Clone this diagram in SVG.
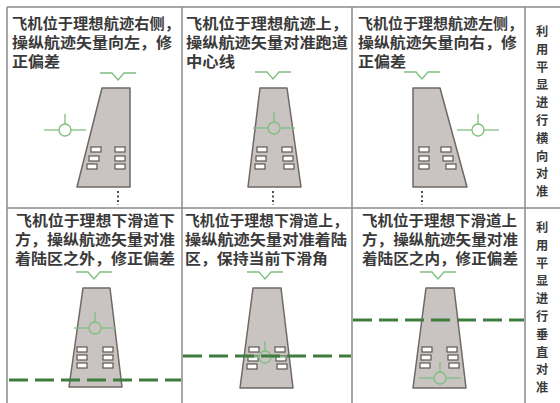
<svg xmlns="http://www.w3.org/2000/svg" width="560" height="403" viewBox="0 0 560 403">
  <defs>
    <style>
      .grid { stroke: #8a8a8a; stroke-width: 1.5; fill: none; }
      .txt { font-family: "Noto Sans CJK SC", "Noto Sans", sans-serif; font-size: 14.5px; font-weight: 700; fill: #3a3a3a; }
      .vtxt { font-family: "Noto Sans CJK SC", "Noto Sans", sans-serif; font-size: 12.2px; font-weight: 700; fill: #3a3a3a; text-anchor: middle; }
      .rwy { fill: #c9c4c1; stroke: #6f6864; stroke-width: 1.5; stroke-linejoin: round; }
      .lamp { fill: #ffffff; stroke: #5e5855; stroke-width: 1.2; }
      .sym { fill: none; stroke: #7fbe7f; stroke-width: 1.3; }
      .gs { fill: none; stroke: #3f7d3f; stroke-width: 3; stroke-dasharray: 19 7; }
      .dots { fill: none; stroke: #4a4a4a; stroke-width: 2; stroke-dasharray: 2 2.5; }
    </style>
    <!-- flight path vector: circle, wings, tail -->
    <g id="fpv">
      <circle class="sym" cx="0" cy="0" r="6"/>
      <line class="sym" x1="-21" y1="0" x2="-6" y2="0"/>
      <line class="sym" x1="6" y1="0" x2="21" y2="0"/>
      <line class="sym" x1="0" y1="-6" x2="0" y2="-16"/>
    </g>
    <!-- heading / horizon reference notch -->
    <polyline id="notch" class="sym" points="-18,0 -6,0 0,7 6,0 18,0"/>
    <rect id="lamp" class="lamp" width="10" height="5"/>
  </defs>

  <!-- table grid -->
  <g id="grid">
    <line class="grid" x1="7" y1="7" x2="560" y2="7"/>
    <line class="grid" x1="7" y1="208" x2="560" y2="208"/>
    <line class="grid" x1="7" y1="7" x2="7" y2="403"/>
    <line class="grid" x1="182" y1="7" x2="182" y2="403"/>
    <line class="grid" x1="352" y1="7" x2="352" y2="403"/>
    <line class="grid" x1="525" y1="7" x2="525" y2="403"/>
  </g>

  <!-- row 1, cell 1: right of track -->
  <g id="cell-r1c1">
    <text class="txt" x="12" y="28.5" textLength="168" lengthAdjust="spacingAndGlyphs">飞机位于理想航迹右侧，</text>
    <text class="txt" x="12" y="47.5" textLength="160" lengthAdjust="spacingAndGlyphs">操纵航迹矢量向左，修</text>
    <text class="txt" x="12" y="66.5" textLength="48" lengthAdjust="spacingAndGlyphs">正偏差</text>
    <use href="#notch" x="118" y="73"/>
    <polygon class="rwy" points="102,88 130,88 130,187 77,187"/>
    <use href="#lamp" x="91" y="147"/>
    <use href="#lamp" x="89" y="156"/>
    <use href="#lamp" x="87" y="164"/>
    <use href="#lamp" x="115" y="147"/>
    <use href="#lamp" x="115" y="156"/>
    <use href="#lamp" x="115" y="164"/>
    <line class="dots" x1="118" y1="191" x2="118" y2="205"/>
    <use href="#fpv" x="65" y="130"/>
  </g>

  <!-- row 1, cell 2: on track -->
  <g id="cell-r1c2">
    <text class="txt" x="186" y="28.5" textLength="162" lengthAdjust="spacingAndGlyphs">飞机位于理想航迹上，</text>
    <text class="txt" x="186" y="47.5" textLength="162" lengthAdjust="spacingAndGlyphs">操纵航迹矢量对准跑道</text>
    <text class="txt" x="186" y="66.5" textLength="49" lengthAdjust="spacingAndGlyphs">中心线</text>
    <use href="#notch" x="273" y="72"/>
    <polygon class="rwy" points="260,88 287,88 301,187 248,187"/>
    <use href="#lamp" x="257" y="147"/>
    <use href="#lamp" x="256" y="156"/>
    <use href="#lamp" x="255" y="164"/>
    <use href="#lamp" x="282" y="147"/>
    <use href="#lamp" x="283" y="156"/>
    <use href="#lamp" x="284" y="164"/>
    <line class="dots" x1="273" y1="191" x2="273" y2="205"/>
    <use href="#fpv" x="274" y="128"/>
  </g>

  <!-- row 1, cell 3: left of track -->
  <g id="cell-r1c3">
    <text class="txt" x="358" y="28.5" textLength="165" lengthAdjust="spacingAndGlyphs">飞机位于理想航迹左侧，</text>
    <text class="txt" x="358" y="47.5" textLength="159" lengthAdjust="spacingAndGlyphs">操纵航迹矢量向右，修</text>
    <text class="txt" x="358" y="66.5" textLength="48" lengthAdjust="spacingAndGlyphs">正偏差</text>
    <use href="#notch" x="422" y="72"/>
    <polygon class="rwy" points="413,88 440,88 467,187 413,187"/>
    <use href="#lamp" x="419" y="147"/>
    <use href="#lamp" x="419" y="156"/>
    <use href="#lamp" x="419" y="164"/>
    <use href="#lamp" x="441" y="147"/>
    <use href="#lamp" x="443" y="156"/>
    <use href="#lamp" x="446" y="164"/>
    <line class="dots" x1="422" y1="191" x2="422" y2="205"/>
    <use href="#fpv" x="478" y="130"/>
  </g>

  <!-- row 1 side label, one character per line -->
  <g id="label-lateral">
    <text class="vtxt" x="542" y="36">利</text>
    <text class="vtxt" x="542" y="54">用</text>
    <text class="vtxt" x="542" y="72">平</text>
    <text class="vtxt" x="542" y="89">显</text>
    <text class="vtxt" x="542" y="107">进</text>
    <text class="vtxt" x="542" y="125">行</text>
    <text class="vtxt" x="542" y="143">横</text>
    <text class="vtxt" x="542" y="161">向</text>
    <text class="vtxt" x="542" y="178">对</text>
    <text class="vtxt" x="542" y="196">准</text>
  </g>

  <!-- row 2, cell 1: below glide path -->
  <g id="cell-r2c1">
    <text class="txt" x="16" y="226" textLength="159" lengthAdjust="spacingAndGlyphs">飞机位于理想下滑道下</text>
    <text class="txt" x="15" y="245" textLength="160" lengthAdjust="spacingAndGlyphs">方，操纵航迹矢量对准</text>
    <text class="txt" x="15" y="264" textLength="160" lengthAdjust="spacingAndGlyphs">着陆区之外，修正偏差</text>
    <use href="#notch" x="94" y="272"/>
    <polygon class="rwy" points="83,288 110,288 122,387 69,387"/>
    <use href="#lamp" x="77" y="347"/>
    <use href="#lamp" x="77" y="355"/>
    <use href="#lamp" x="77" y="363"/>
    <use href="#lamp" x="103" y="347"/>
    <use href="#lamp" x="103" y="355"/>
    <use href="#lamp" x="103" y="363"/>
    <use href="#fpv" x="95" y="328"/>
  </g>

  <!-- row 2, cell 2: on glide path -->
  <g id="cell-r2c2">
    <text class="txt" x="185" y="226" textLength="163" lengthAdjust="spacingAndGlyphs">飞机位于理想下滑道上，</text>
    <text class="txt" x="185" y="245" textLength="162" lengthAdjust="spacingAndGlyphs">操纵航迹矢量对准着陆</text>
    <text class="txt" x="185" y="264" textLength="143" lengthAdjust="spacingAndGlyphs">区，保持当前下滑角</text>
    <use href="#notch" x="265" y="272"/>
    <polygon class="rwy" points="253,288 281,288 293,388 240,388"/>
    <use href="#lamp" x="249" y="347"/>
    <use href="#lamp" x="248" y="356"/>
    <use href="#lamp" x="247" y="364"/>
    <use href="#lamp" x="275" y="347"/>
    <use href="#lamp" x="276" y="356"/>
    <use href="#lamp" x="277" y="364"/>
    <use href="#fpv" x="265" y="357"/>
  </g>

  <!-- row 2, cell 3: above glide path -->
  <g id="cell-r2c3">
    <text class="txt" x="362" y="226" textLength="155" lengthAdjust="spacingAndGlyphs">飞机位于理想下滑道上</text>
    <text class="txt" x="362" y="245" textLength="156" lengthAdjust="spacingAndGlyphs">方，操纵航迹矢量对准</text>
    <text class="txt" x="362" y="264" textLength="156" lengthAdjust="spacingAndGlyphs">着陆区之内，修正偏差</text>
    <use href="#notch" x="438" y="272"/>
    <polygon class="rwy" points="426,288 454,288 466,388 413,388"/>
    <use href="#lamp" x="422" y="347"/>
    <use href="#lamp" x="421" y="355"/>
    <use href="#lamp" x="420" y="363"/>
    <use href="#lamp" x="447" y="347"/>
    <use href="#lamp" x="448" y="355"/>
    <use href="#lamp" x="449" y="363"/>
    <use href="#fpv" x="440" y="378"/>
  </g>

  <!-- glide slope reference lines -->
  <g id="connectors">
    <line class="gs" x1="9" y1="380" x2="181" y2="380"/>
    <line class="gs" x1="183" y1="356" x2="351" y2="356"/>
    <line class="gs" x1="353" y1="320" x2="524" y2="320"/>
  </g>

  <!-- row 2 side label, one character per line -->
  <g id="label-vertical">
    <text class="vtxt" x="542" y="232">利</text>
    <text class="vtxt" x="542" y="250">用</text>
    <text class="vtxt" x="542" y="268">平</text>
    <text class="vtxt" x="542" y="285">显</text>
    <text class="vtxt" x="542" y="303">进</text>
    <text class="vtxt" x="542" y="321">行</text>
    <text class="vtxt" x="542" y="339">垂</text>
    <text class="vtxt" x="542" y="357">直</text>
    <text class="vtxt" x="542" y="374">对</text>
    <text class="vtxt" x="542" y="392">准</text>
  </g>
</svg>
